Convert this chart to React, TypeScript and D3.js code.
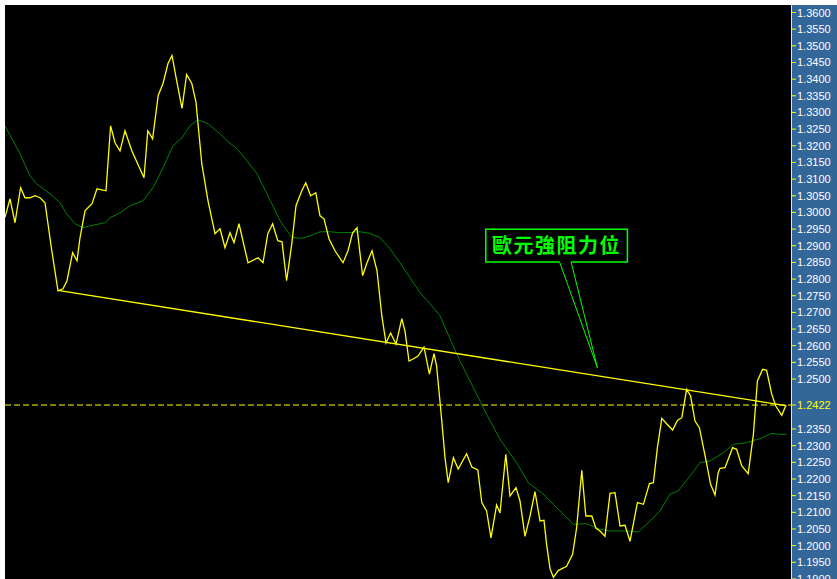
import React from "react";
import * as d3 from "d3";

// ---- data (time index in bars, price) ----
const priceT = [0, 1.25, 2.5, 3.9, 5, 6.25, 7.5, 8.75, 10, 11.7, 13.25, 14.5, 15.5, 16.9, 18, 18.75, 20, 21.75, 23, 25.25, 26.4, 27.5, 28.75, 30, 31.7, 34.75, 35.7, 36.9, 38.3, 39.5, 40.75, 41.75, 42.9, 44.25, 45.4, 46.7, 47.75, 49.2, 50.75, 52.5, 53.75, 55, 56.25, 57.25, 58.5, 60.75, 63.25, 64.5, 65.7, 66.9, 68.2, 69.25, 70.4, 71.7, 72.75, 74.2, 75.2, 76.4, 77.7, 78.75, 79.75, 81, 82.5, 84.5, 85.75, 86.9, 88, 89.4, 90.5, 91.75, 93, 94.2, 95.25, 96.4, 97.75, 99.2, 100, 101, 102, 103.25, 104.75, 106.1, 107.25, 107.9, 108.9, 110, 110.8, 112.1, 113.3, 115.4, 116.7, 118.2, 119.2, 120.4, 121.5, 122.9, 123.75, 125.2, 126.25, 127.75, 128.75, 130, 131.25, 132.5, 133.75, 134.75, 135.4, 136.25, 137.1, 138.3, 140.4, 141.9, 142.9, 144.2, 145.2, 146.7, 147.7, 148.75, 150, 151.25, 152.5, 153.75, 155, 156.25, 158.1, 159.6, 161.1, 162.1, 163.1, 164.2, 165.4, 166.9, 168.1, 169.2, 170.4, 171.4, 172.5, 173.6, 175.25, 176.4, 177.5, 178.3, 178.75, 180, 181.9, 182.9, 184.2, 185.8, 187.1, 188.1, 189.4, 190.4, 191.7, 192.7, 194.2, 195.25];
const priceV = [1.2985, 1.3041, 1.2969, 1.3074, 1.3044, 1.3044, 1.305, 1.3044, 1.3029, 1.2885, 1.2765, 1.2771, 1.2795, 1.2879, 1.2855, 1.2924, 1.3005, 1.3026, 1.3071, 1.3065, 1.326, 1.3209, 1.3185, 1.3245, 1.3185, 1.3104, 1.3245, 1.3221, 1.3351, 1.3387, 1.3447, 1.3471, 1.3396, 1.3312, 1.3414, 1.3387, 1.333, 1.3146, 1.3035, 1.2936, 1.2951, 1.2894, 1.2939, 1.2909, 1.2966, 1.2849, 1.2864, 1.2849, 1.2936, 1.2966, 1.2915, 1.2912, 1.2795, 1.2906, 1.302, 1.3065, 1.3089, 1.305, 1.3059, 1.299, 1.2981, 1.2921, 1.2885, 1.2849, 1.2885, 1.2939, 1.2954, 1.281, 1.2849, 1.2885, 1.2825, 1.269, 1.2608, 1.2638, 1.2605, 1.2681, 1.2644, 1.2554, 1.256, 1.2569, 1.2596, 1.2515, 1.2576, 1.2539, 1.2414, 1.2264, 1.2189, 1.2264, 1.223, 1.2276, 1.2236, 1.2227, 1.2129, 1.2104, 1.2023, 1.2122, 1.2098, 1.2274, 1.2149, 1.2174, 1.2134, 1.2028, 1.2089, 1.2162, 1.2074, 1.2076, 1.2004, 1.1931, 1.1905, 1.1925, 1.1938, 1.1974, 1.2053, 1.2226, 1.2089, 1.2089, 1.2053, 1.2044, 1.2028, 1.2157, 1.2159, 1.2059, 1.2061, 1.2013, 1.2129, 1.2124, 1.2186, 1.2189, 1.2294, 1.2382, 1.2366, 1.2347, 1.2376, 1.2384, 1.2469, 1.2449, 1.2374, 1.2354, 1.2256, 1.2184, 1.2152, 1.2219, 1.2232, 1.2234, 1.2294, 1.2289, 1.2239, 1.2216, 1.2334, 1.2494, 1.2529, 1.2526, 1.2454, 1.2419, 1.2391, 1.2422];

const maT = [0, 3.75, 6.25, 7.9, 11.25, 13.75, 15.4, 17.5, 19.5, 21.25, 25, 26.25, 28.75, 31.25, 34.5, 37, 39.5, 42, 44.25, 46.25, 48.25, 50.75, 53.75, 55.5, 58, 60.5, 63, 65.5, 68.75, 71.7, 74.2, 76.25, 78.75, 81.25, 83.75, 86.7, 88.75, 91.25, 93.75, 96.25, 98.75, 101.25, 103.75, 106.25, 108.75, 110.4, 113.75, 117.1, 120.4, 123.75, 127.9, 130.8, 134.6, 138.75, 142.1, 145.4, 148.75, 151.25, 155.4, 158.3, 161.25, 163.75, 166.25, 168.3, 171.25, 173.75, 176.25, 179.6, 182.1, 185.4, 188.75, 191.7, 193.75, 195.4];
const maV = [1.326, 1.3176, 1.311, 1.3086, 1.3056, 1.3029, 1.2996, 1.2966, 1.2954, 1.296, 1.2969, 1.2984, 1.2999, 1.302, 1.3035, 1.3074, 1.3134, 1.32, 1.3224, 1.326, 1.3278, 1.3266, 1.3236, 1.3215, 1.3191, 1.3155, 1.3116, 1.3056, 1.2975, 1.2925, 1.2922, 1.293, 1.2942, 1.2942, 1.2939, 1.294, 1.2942, 1.2937, 1.2924, 1.2891, 1.2849, 1.2804, 1.2759, 1.2726, 1.269, 1.2644, 1.2554, 1.2474, 1.2394, 1.2319, 1.2249, 1.2189, 1.2154, 1.2104, 1.2064, 1.2066, 1.2049, 1.2044, 1.2044, 1.2041, 1.2074, 1.2104, 1.2154, 1.2164, 1.2209, 1.2249, 1.2254, 1.2279, 1.2304, 1.2309, 1.2321, 1.2337, 1.2334, 1.2334];

const trendT = [13.25, 195.25];
const trendV = [1.2766, 1.242];

const lastPrice = 1.2422;

const tickValues = [1.36, 1.355, 1.35, 1.345, 1.34, 1.335, 1.33, 1.325, 1.32, 1.315, 1.31, 1.305, 1.3, 1.295, 1.29, 1.285, 1.28, 1.275, 1.27, 1.265, 1.26, 1.255, 1.25, 1.235, 1.23, 1.225, 1.22, 1.215, 1.21, 1.205, 1.2, 1.195, 1.19];

const annotationText = "歐元強阻力位";
const annotationT = 148.1;
const annotationV = 1.2534;

// ---- layout ----
const W = 837;
const H = 579;
const plotL = 5;
const plotT = 5;
const plotR = 791;

export default function App() {
  const x = d3.scaleLinear().domain([0, 195.25]).range([5, 786]);
  const y = d3.scaleLinear().domain([1.36, 1.195]).range([12.5, 562.3]);

  const priceData = priceT.map((t, i) => [t, priceV[i]] as [number, number]);
  const maData = maT.map((t, i) => [t, maV[i]] as [number, number]);
  const trendData = trendT.map((t, i) => [t, trendV[i]] as [number, number]);

  const line = d3
    .line<[number, number]>()
    .x((d) => x(d[0]))
    .y((d) => y(d[1]));

  const tx = x(annotationT);
  const ty = y(annotationV);
  const bL = tx - 111.6;
  const bR = tx + 30;
  const bT = ty - 138.4;
  const bB = ty - 105.7;
  const gL = tx - 37.8;
  const gR = tx - 26.3;
  const boxPath = `M${gL},${bB} L${bL},${bB} L${bL},${bT} L${bR},${bT} L${bR},${bB} L${gR},${bB}`;

  const yLast = y(lastPrice);

  return (
    <svg
      width={W}
      height={H}
      style={{ position: "absolute", left: 0, top: 0, display: "block" }}
    >
      <rect x={0} y={0} width={W} height={H} fill="#ffffff" />
      <rect x={plotL} y={plotT} width={plotR - plotL} height={H - plotT} fill="#000000" />
      <rect x={792} y={plotT} width={W - 792} height={H - plotT} fill="#336699" />
      <defs>
        <clipPath id="plotclip">
          <rect x={plotL} y={plotT} width={plotR - plotL} height={H - plotT} />
        </clipPath>
      </defs>

      <g clipPath="url(#plotclip)">
        <line
          x1={plotL}
          x2={plotR}
          y1={yLast}
          y2={yLast}
          stroke="#ffff00"
          strokeWidth={1}
          strokeDasharray="6,3"
        />
        <path d={line(maData) || ""} fill="none" stroke="#008000" strokeWidth={1} />
        <path d={line(trendData) || ""} fill="none" stroke="#ffff00" strokeWidth={1.3} />
        <path d={line(priceData) || ""} fill="none" stroke="#ffff00" strokeWidth={1.3} />

        <path d={boxPath} fill="none" stroke="#00ff00" strokeWidth={1.5} />
        <line x1={gL} y1={bB} x2={tx} y2={ty} stroke="#00ff00" strokeWidth={1} />
        <line x1={gR} y1={bB} x2={tx} y2={ty} stroke="#00ff00" strokeWidth={1} />
        <text
          x={(bL + bR) / 2}
          y={(bT + bB) / 2 - 1}
          fill="#00ff00"
          fontSize={20}
          fontWeight="bold"
          textAnchor="middle"
          dominantBaseline="central"
          letterSpacing={1.5}
          fontFamily="'Noto Sans CJK TC', 'Noto Sans CJK SC', sans-serif"
        >
          {annotationText}
        </text>
      </g>

      <line x1={791.5} x2={791.5} y1={plotT} y2={H} stroke="#ffff00" strokeWidth={1} />
      {tickValues.map((v) => (
        <g key={v}>
          <line x1={792} x2={796} y1={y(v)} y2={y(v)} stroke="#ffff00" strokeWidth={1} />
          <text
            x={797}
            y={y(v)}
            fill="#ffffff"
            fontSize={11}
            dominantBaseline="central"
            fontFamily="'Liberation Sans', Arial, sans-serif"
          >
            {v.toFixed(4)}
          </text>
        </g>
      ))}
      <line x1={792} x2={796} y1={yLast} y2={yLast} stroke="#ffff00" strokeWidth={1} />
      <text
        x={797}
        y={yLast}
        fill="#ffff00"
        fontSize={11}
        dominantBaseline="central"
        fontFamily="'Liberation Sans', Arial, sans-serif"
      >
        {lastPrice.toFixed(4)}
      </text>
    </svg>
  );
}
